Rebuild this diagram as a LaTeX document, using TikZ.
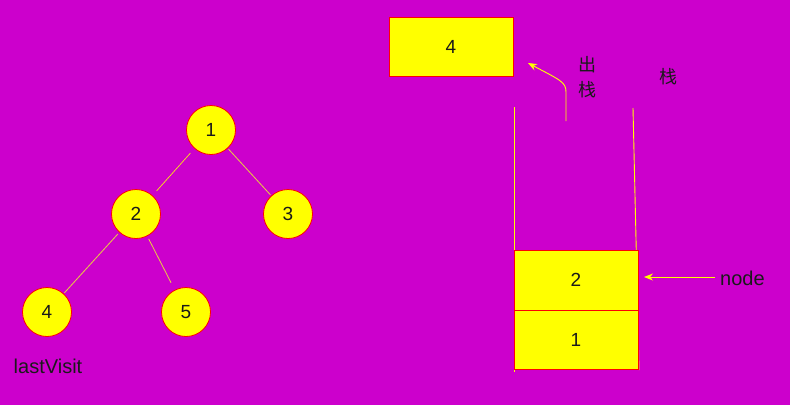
\documentclass[tikz,border=0pt]{standalone}
\usepackage{fontspec}
\setmainfont{Liberation Sans}
\newfontfamily\cjk{Noto Sans CJK SC}
\usetikzlibrary{arrows.meta}
\definecolor{bg}{HTML}{CC00CC}
\definecolor{yel}{HTML}{FFFF00}
\definecolor{edgeA}{HTML}{E8D040}
\definecolor{txt}{HTML}{1A1A1A}
\begin{document}
\begin{tikzpicture}[x=1pt,y=-1pt,
  tnode/.style={circle,draw=red,fill=yel,line width=0.8pt,minimum size=49pt,inner sep=0pt,text=txt,font=\fontsize{19}{21}\selectfont},
  cell/.style={draw=red,fill=yel,line width=0.9pt,text=txt,font=\fontsize{19}{21}\selectfont},
  tedge/.style={draw=yel,line width=0.6pt},
  tedgeB/.style={draw=edgeA,line width=0.8pt},
  wall/.style={draw=yel,line width=0.9pt},
  arr/.style={draw=yel,line width=0.9pt,-{Stealth[length=9pt,width=7pt]}},
  lbl/.style={text=txt,font=\fontsize{20}{22}\selectfont,inner sep=0pt},
  cjklbl/.style={text=txt,font=\cjk\fontsize{18}{20}\selectfont,inner sep=0pt}]
\fill[bg] (0,0) rectangle (790,405);
\useasboundingbox (0,0) rectangle (790,405);
% tree
\node[tnode] (n1) at (211,130) {1};
\node[tnode] (n2) at (136,214) {2};
\node[tnode] (n3) at (288,214) {3};
\node[tnode] (n4) at (47,312) {4};
\node[tnode] (n5) at (186,312) {5};
\draw[tedge,shorten <=6pt,shorten >=6pt] (n1) -- (n2);
\draw[tedgeB,shorten <=1pt,shorten >=1pt] (n1) -- (n3);
\draw[tedgeB,shorten <=2pt,shorten >=1pt] (n2) -- (n4);
\draw[tedgeB,shorten <=3pt,shorten >=8pt] (n2) -- (n5);
\node[lbl] (lv) at (48,366) {lastVisit};
% popped box
\node[cell,minimum width=124pt,minimum height=59pt,inner sep=0pt] (top) at (451,46.5) {4};
% stack walls
\coordinate (lwt) at (514,107);
\coordinate (lwb) at (514,372);
\coordinate (rwt) at (633,108);
\coordinate (rwb) at (639,370);
\draw[wall] (lwt) -- (lwb);
\draw[wall] (rwt) -- (rwb);
% stack cells
\node[cell,minimum width=124pt,minimum height=60pt,inner sep=0pt] (c2) at (576,280) {2};
\node[cell,minimum width=124pt,minimum height=59pt,inner sep=0pt] (c1) at (576,339.5) {1};
% pop arrow
\coordinate (ps) at (566,121);
\coordinate (pe) at (528,63);
\draw[arr] (ps) -- (566,92) .. controls (566,82) and (560,80) .. (pe);
\node[cjklbl] (chu) at (587,65) {出};
\node[cjklbl] (zhan1) at (587,90) {栈};
\node[cjklbl] (zhan2) at (668,77) {栈};
% node pointer
\node[lbl,anchor=west] (nd) at (720,278) {node};
\coordinate (nds) at (715,277);
\coordinate (nde) at (644,277);
\draw[arr] (nds) -- (nde);
\end{tikzpicture}
\end{document}
